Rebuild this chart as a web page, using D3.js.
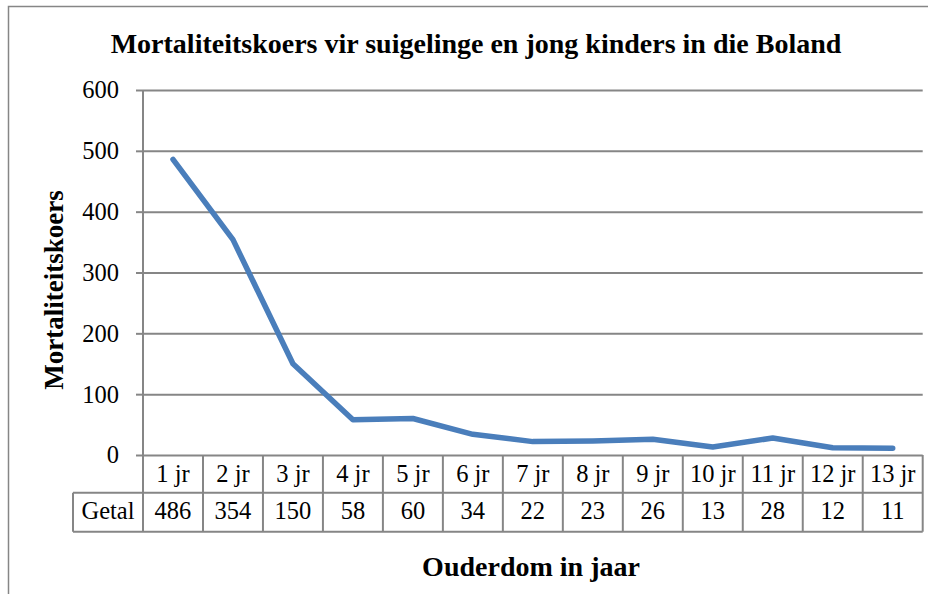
<!DOCTYPE html>
<html>
<head>
<meta charset="utf-8">
<script src="https://cdn.jsdelivr.net/npm/d3@7"></script>
<style>
  html, body { margin: 0; padding: 0; background: #fff; }
  svg { display: block; }
  svg text { font-family: "Liberation Serif", "Times New Roman", serif; fill: #000; }
</style>
</head>
<body>
<div id="chart"></div>
<script>
// data
const categories = ["1 jr", "2 jr", "3 jr", "4 jr", "5 jr", "6 jr", "7 jr", "8 jr", "9 jr", "10 jr", "11 jr", "12 jr", "13 jr"];
const getal = [486, 354, 150, 58, 60, 34, 22, 23, 26, 13, 28, 12, 11];
const yTicks = [0, 100, 200, 300, 400, 500, 600];
const rowLabel = "Getal";
const titleText = "Mortaliteitskoers vir suigelinge en jong kinders in die Boland";
const yTitle = "Mortaliteitskoers";
const xTitle = "Ouderdom in jaar";

const width = 938, height = 594;
const plot = { left: 143, right: 922.7, top: 90, bottom: 455 };
const rowH = [37.7, 39];
const labelCellX = 73;
const gridColor = "#868686";
const lineColor = "#4a7ebb";
const fontSize = 24.5;

const svg = d3.select("#chart").append("svg")
  .attr("width", width)
  .attr("height", height)
  .attr("viewBox", `0 0 ${width} ${height}`);

// outer chart border (only top and left visible)
svg.append("path")
  .attr("d", `M8.5,${height} V6.5 H928`)
  .attr("fill", "none")
  .attr("stroke", gridColor)
  .attr("stroke-width", 1.5);

const x = d3.scaleBand().domain(categories).range([plot.left, plot.right]).padding(0);
const y = d3.scaleLinear().domain([0, 600]).range([plot.bottom, plot.top]);

// gridlines
svg.append("g")
  .attr("transform", `translate(${plot.left},0)`)
  .call(d3.axisLeft(y).tickValues(yTicks).tickSize(-(plot.right - plot.left)).tickFormat(""))
  .call(g => g.select(".domain").remove())
  .call(g => g.selectAll("line").attr("stroke", gridColor).attr("stroke-width", 2));

// y axis with tick labels
svg.append("g")
  .attr("transform", `translate(${plot.left},0)`)
  .call(d3.axisLeft(y).tickValues(yTicks).tickSize(7).tickPadding(17))
  .call(g => g.attr("font-family", null).attr("font-size", null))
  .call(g => g.select(".domain").attr("stroke", gridColor).attr("stroke-width", 2)
    .attr("d", `M0,${plot.top}V${plot.bottom + rowH[0] + rowH[1]}`))
  .call(g => g.selectAll("line").attr("stroke", gridColor).attr("stroke-width", 2))
  .call(g => g.selectAll("text")
    .attr("font-size", fontSize)
    .attr("dy", "0.32em"));

// data table
const table = svg.append("g");
const r1 = plot.bottom, r2 = plot.bottom + rowH[0], r3 = r2 + rowH[1];
const tableStroke = g => g.attr("stroke", gridColor).attr("stroke-width", 2).attr("fill", "none");

table.append("line").attr("x1", labelCellX).attr("x2", plot.right).attr("y1", r2).attr("y2", r2).call(tableStroke);
table.append("line").attr("x1", labelCellX).attr("x2", plot.right).attr("y1", r3).attr("y2", r3).call(tableStroke);
table.append("line").attr("x1", labelCellX).attr("x2", labelCellX).attr("y1", r2).attr("y2", r3).call(tableStroke);
table.selectAll(".col").data(categories).join("line")
  .attr("class", "col")
  .attr("x1", d => x(d) + x.bandwidth())
  .attr("x2", d => x(d) + x.bandwidth())
  .attr("y1", r1).attr("y2", r3)
  .call(tableStroke);

table.selectAll(".cat").data(categories).join("text")
  .attr("class", "cat")
  .attr("x", d => x(d) + x.bandwidth() / 2)
  .attr("y", r1 + 27)
  .attr("text-anchor", "middle")
  .attr("font-size", fontSize)
  .text(d => d);

table.selectAll(".val").data(getal).join("text")
  .attr("class", "val")
  .attr("x", (d, i) => x(categories[i]) + x.bandwidth() / 2)
  .attr("y", r2 + 26)
  .attr("text-anchor", "middle")
  .attr("font-size", fontSize)
  .text(d => d);

table.append("text")
  .attr("x", (labelCellX + plot.left) / 2)
  .attr("y", r2 + 26)
  .attr("text-anchor", "middle")
  .attr("font-size", fontSize)
  .text(rowLabel);

// series line
const line = d3.line()
  .x((d, i) => x(categories[i]) + x.bandwidth() / 2)
  .y(d => y(d));

svg.append("path")
  .datum(getal)
  .attr("d", line)
  .attr("fill", "none")
  .attr("stroke", lineColor)
  .attr("stroke-width", 5.5)
  .attr("stroke-linejoin", "round")
  .attr("stroke-linecap", "round");

// titles
svg.append("text")
  .attr("x", 476)
  .attr("y", 53)
  .attr("text-anchor", "middle")
  .attr("font-size", 28)
  .attr("font-weight", "bold")
  .text(titleText);

svg.append("text")
  .attr("transform", "translate(63,290) rotate(-90)")
  .attr("text-anchor", "middle")
  .attr("font-size", 27)
  .attr("font-weight", "bold")
  .text(yTitle);

svg.append("text")
  .attr("x", 531)
  .attr("y", 576)
  .attr("text-anchor", "middle")
  .attr("font-size", 28)
  .attr("font-weight", "bold")
  .text(xTitle);
</script>
</body>
</html>
